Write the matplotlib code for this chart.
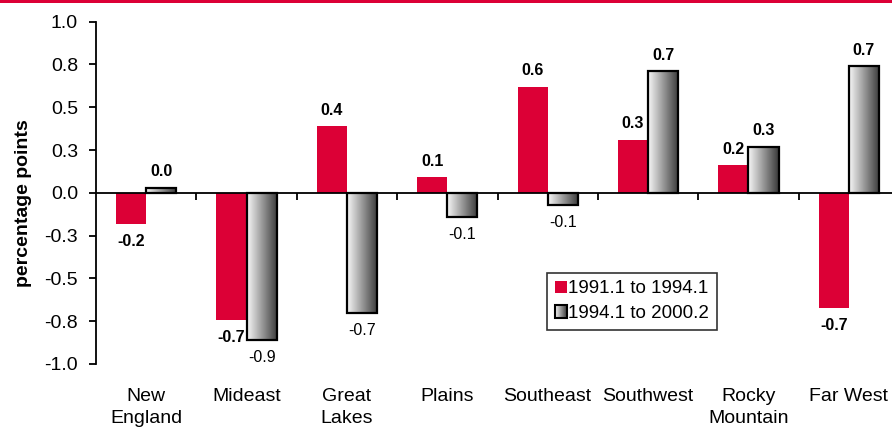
import numpy as np
import matplotlib
matplotlib.use("Agg")
import matplotlib.pyplot as plt
from matplotlib.patches import Rectangle
from matplotlib.legend_handler import HandlerBase
from matplotlib.transforms import blended_transform_factory

plt.rcParams['font.family'] = ['Liberation Sans', 'DejaVu Sans']

categories = ["New\nEngland", "Mideast", "Great\nLakes", "Plains", "Southeast",
              "Southwest", "Rocky\nMountain", "Far West"]
series_names = ["1991.1 to 1994.1", "1994.1 to 2000.2"]
s1 = [-0.18, -0.74, 0.39, 0.09, 0.62, 0.31, 0.16, -0.67]
s2 = [0.03, -0.86, -0.70, -0.14, -0.07, 0.71, 0.27, 0.74]
ytick_vals = [1.0, 0.75, 0.5, 0.25, 0.0, -0.25, -0.5, -0.75, -1.0]
ytick_labels = ["1.0", "0.8", "0.5", "0.3", "0.0", "-0.3", "-0.5", "-0.8", "-1.0"]

RED = '#DC0036'
W, H = 892, 432
fig = plt.figure(figsize=(W / 100, H / 100), dpi=100)

# axes in pixel coordinates
left_px, right_px = 96, 899
top_px, bot_px = 21.7, 364
ax = fig.add_axes([left_px / W, 1 - bot_px / H, (right_px - left_px) / W, (bot_px - top_px) / H])
n = len(categories)
x = np.arange(n)

bw = 0.3
grad = np.linspace(0.97, 0.22, 256).reshape(1, -1)

b1 = ax.bar(x - bw / 2, s1, width=bw, color=RED, edgecolor='none', zorder=2)
b2 = ax.bar(x + bw / 2, s2, width=bw, facecolor='none', edgecolor='black', linewidth=1.6, zorder=4)
for r in b2:
    x0, y0 = r.get_x(), r.get_y()
    w, h = r.get_width(), r.get_height()
    ylo, yhi = min(y0, y0 + h), max(y0, y0 + h)
    im = ax.imshow(grad, cmap='gray', vmin=0, vmax=1, extent=[x0, x0 + w, ylo, yhi],
                   aspect='auto', zorder=3, interpolation='bilinear')
    clip = Rectangle((x0, y0), w, h, transform=ax.transData)
    im.set_clip_path(clip)
ax.set_xlim(-0.5, n - 0.5)
ax.set_ylim(-1.0, 1.0)

# value labels
for i in range(n):
    for xi, v, bold_neg in ((x[i] - bw / 2, s1[i], True), (x[i] + bw / 2, s2[i], False)):
        txt = f"{v:.1f}"
        if v >= 0:
            ax.annotate(txt, (xi, v), xytext=(0, 6), textcoords='offset points',
                        ha='center', va='bottom', fontsize=11.5, fontweight='bold', zorder=6)
        else:
            ax.annotate(txt, (xi, v), xytext=(0, -7.5), textcoords='offset points',
                        ha='center', va='top', fontsize=11.5,
                        fontweight='bold' if bold_neg else 'normal', zorder=6)

# spines
for s in ['top', 'right']:
    ax.spines[s].set_visible(False)
ax.spines['bottom'].set_position(('data', 0))
ax.spines['left'].set_linewidth(1.3)
ax.spines['bottom'].set_linewidth(1.3)
ax.set_yticks(ytick_vals)
ax.set_yticklabels(ytick_labels, fontsize=14)
ax.tick_params(axis='y', direction='out', length=5, width=1.3, pad=8)
ax.set_xticks(np.arange(0.5, n - 0.5 + 0.01, 1.0))
ax.set_xticklabels([])
ax.tick_params(axis='x', direction='out', length=5, width=1.3)

# category labels
tr = blended_transform_factory(ax.transData, fig.transFigure)
for i, c in enumerate(categories):
    ax.text(x[i], 1 - 388 / H, c, transform=tr, ha='center', va='top', fontsize=14,
            linespacing=1.42, clip_on=False)

fig.text(24 / W, 1 - 203 / H, "percentage points", rotation=90, ha='center', va='center',
         fontsize=14, fontweight='bold')

# top red line
fig.add_artist(Rectangle((0, 1 - 3 / H), 1, 3 / H, transform=fig.transFigure,
                         facecolor=RED, edgecolor='none'))


class GradHandler(HandlerBase):
    def create_artists(self, legend, orig_handle, xdescent, ydescent, width, height, fontsize, trans):
        arts = []
        N = 12
        sw = width / N
        for k in range(N):
            g = 0.97 - (0.97 - 0.22) * (k + 0.5) / N
            arts.append(Rectangle((-xdescent + k * sw, -ydescent), sw, height,
                                  facecolor=(g, g, g), edgecolor='none', transform=trans))
        arts.append(Rectangle((-xdescent, -ydescent), width, height, facecolor='none',
                              edgecolor='black', linewidth=1.5, transform=trans))
        return arts


h1 = Rectangle((0, 0), 1, 1, facecolor=RED, edgecolor='none')
h2 = Rectangle((0, 0), 1, 1)
leg = fig.legend([h1, h2], series_names, handler_map={h2: GradHandler()},
                 loc='upper left', bbox_to_anchor=(547 / W, 1 - 272.5 / H),
                 fontsize=13.5, frameon=True, fancybox=False, handlelength=0.65,
                 handleheight=0.65, handletextpad=0.05, borderpad=0.42,
                 labelspacing=0.42, borderaxespad=0)
leg.get_frame().set_edgecolor('black')
leg.get_frame().set_linewidth(1.2)

fig.savefig("out.png", dpi=100)
